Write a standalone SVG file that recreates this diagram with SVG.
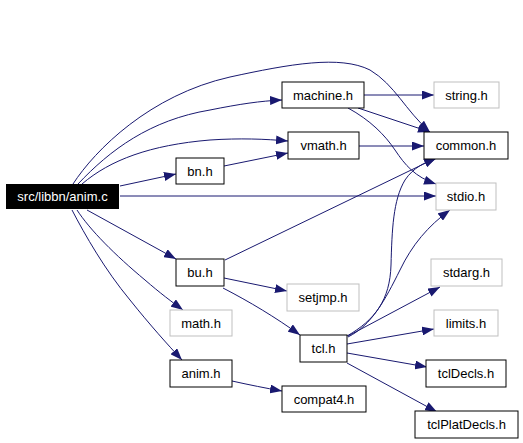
<svg xmlns="http://www.w3.org/2000/svg" width="523" height="443" viewBox="0 0 523 443">
<style>
.n rect{fill:#fff;stroke:#000;stroke-width:1}
.g rect{fill:#fff;stroke:#bfbfbf;stroke-width:1}
text{font-family:"Liberation Sans",Arial,sans-serif;font-size:13px;fill:#000;text-anchor:middle}
.e path{fill:none;stroke:#191970;stroke-width:1;marker-end:url(#a)}
</style>
<defs>
<marker id="a" markerWidth="12" markerHeight="9" refX="12" refY="4.5" orient="auto" markerUnits="userSpaceOnUse">
<path d="M0,0 L12,4.5 L0,9 z" fill="#191970"/>
</marker>
</defs>
<rect width="523" height="443" fill="#fff"/>
<g class="e" id="edges">
<path d="M73,184 C95,150 150,95 230,77 C290,64 340,55 370,70 C395,85 405,110 430,132"/>
<path d="M78,184 C110,150 150,120 210,110 C240,104 260,101 282,100"/>
<path d="M82,184 C110,160 150,145 210,140 C240,138 265,139 288,141"/>
<path d="M120,186 L176,174"/>
<path d="M120,196 L436,196"/>
<path d="M87,210 L176,259"/>
<path d="M77,210 C90,230 115,255 145,280 C160,293 172,302 183,310"/>
<path d="M72,210 C85,235 105,270 130,300 C150,325 168,345 182,360"/>
<path d="M224,166 L288,153"/>
<path d="M364,95 L434,95"/>
<path d="M358,108 L430,132"/>
<path d="M348,108 C370,120 385,135 395,150 C405,165 415,177 436,184"/>
<path d="M359,146 L424,146"/>
<path d="M225,260 L436,158"/>
<path d="M224,278 L287,291"/>
<path d="M223,288 C250,302 275,317 300,335"/>
<path d="M347,336 C375,320 390,300 391,265 C392,230 393,200 405,180 C413,168 425,162 437,158"/>
<path d="M348,337 C372,325 385,300 400,270 C412,245 428,226 450,210"/>
<path d="M348,336 L440,287"/>
<path d="M347,344 L434,329"/>
<path d="M347,353 L427,367"/>
<path d="M347,363 L437,412"/>
<path d="M232,381 C250,385 265,388 282,391"/>
</g>
<g id="anim_c"><rect x="6" y="184" width="113" height="25" fill="#000"/><text x="62.5" y="201" style="fill:#fff">src/libbn/anim.c</text></g>
<g id="bn_h" class="n"><rect x="176" y="158" width="48" height="26"/><text x="200" y="175.5">bn.h</text></g>
<g id="machine_h" class="n"><rect x="282" y="82" width="82" height="26"/><text x="323" y="99.5">machine.h</text></g>
<g id="string_h" class="g"><rect x="434" y="82" width="65" height="26"/><text x="466.5" y="99.5">string.h</text></g>
<g id="vmath_h" class="n"><rect x="288" y="132" width="71" height="27"/><text x="323.5" y="150">vmath.h</text></g>
<g id="common_h" class="n"><rect x="424" y="132" width="84" height="27"/><text x="466" y="150">common.h</text></g>
<g id="stdio_h" class="g"><rect x="436" y="183" width="60" height="27"/><text x="466" y="201">stdio.h</text></g>
<g id="bu_h" class="n"><rect x="176" y="259" width="48" height="27"/><text x="200" y="277">bu.h</text></g>
<g id="math_h" class="g"><rect x="170" y="310" width="62" height="26"/><text x="201" y="327.5">math.h</text></g>
<g id="anim_h" class="n"><rect x="170" y="360" width="62" height="27"/><text x="201" y="378">anim.h</text></g>
<g id="stdarg_h" class="g"><rect x="431" y="259" width="71" height="27"/><text x="466.5" y="277">stdarg.h</text></g>
<g id="setjmp_h" class="g"><rect x="287" y="284" width="72" height="27"/><text x="323" y="302">setjmp.h</text></g>
<g id="limits_h" class="g"><rect x="434" y="310" width="64" height="26"/><text x="466" y="327.5">limits.h</text></g>
<g id="tcl_h" class="n"><rect x="300" y="335" width="47" height="27"/><text x="323.5" y="353">tcl.h</text></g>
<g id="tclDecls_h" class="n"><rect x="426" y="360" width="80" height="27"/><text x="466" y="378">tclDecls.h</text></g>
<g id="compat4_h" class="n"><rect x="282" y="386" width="84" height="26"/><text x="324" y="403.5">compat4.h</text></g>
<g id="tclPlatDecls_h" class="n"><rect x="415" y="411" width="103" height="27"/><text x="466.5" y="429">tclPlatDecls.h</text></g>
</svg>
